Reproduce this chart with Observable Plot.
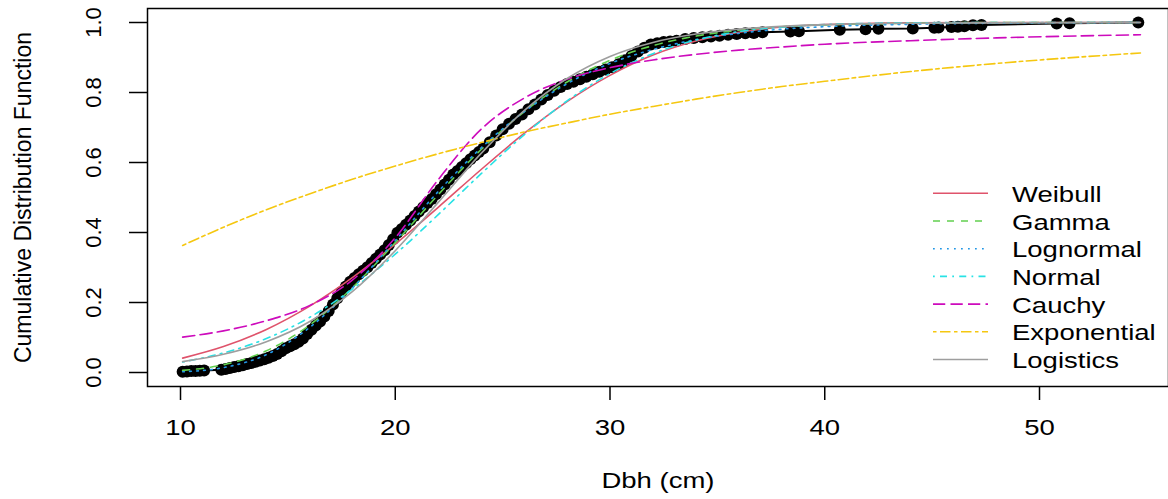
<!DOCTYPE html>
<html><head><meta charset="utf-8">
<script src="https://cdn.jsdelivr.net/npm/d3@7"></script>
<script src="https://cdn.jsdelivr.net/npm/@observablehq/plot@0.6"></script>
<style>
html,body{margin:0;padding:0;background:#fff;}
#chart svg{display:block;}
</style></head><body><div id="chart"></div>
<script>
// Empirical CDF of Dbh (cm)
const ecdfDbh = [10.1,10.3,10.5,10.7,10.9,11.1,11.9,12.1,12.3,12.5,12.7,12.9,13.1,13.3,13.5,13.7,13.9,14.1,14.3,14.5,14.7,14.9,15.1,15.3,15.5,15.7,15.9,16.1,16.3,16.5,16.7,16.9,17.1,17.3,17.5,17.7,17.9,18.1,18.3,18.5,18.7,18.9,19.1,19.3,19.5,19.7,19.9,20.1,20.3,20.5,20.7,20.9,21.1,21.3,21.5,21.7,21.9,22.1,22.3,22.5,22.7,22.9,23.1,23.3,23.5,23.7,23.9,24.1,24.4,24.7,25.0,25.3,25.6,25.9,26.2,26.5,26.8,27.1,27.4,27.7,28.0,28.3,28.6,28.9,29.2,29.5,29.8,30.1,30.4,30.7,31.0,31.3,31.6,31.9,32.2,32.5,32.8,33.1,33.5,33.9,34.3,34.7,35.1,35.5,35.9,36.3,36.7,37.1,38.4,38.8,40.7,41.9,42.5,44.1,45.1,45.3,45.9,46.2,46.5,46.9,47.3,50.8,51.4,54.6];
const ecdfProb = [.002,.003,.004,.004,.005,.006,.008,.010,.013,.016,.018,.021,.024,.027,.031,.034,.038,.042,.047,.053,.061,.069,.075,.081,.088,.097,.110,.122,.134,.146,.160,.176,.194,.212,.230,.246,.259,.270,.281,.291,.301,.313,.325,.337,.349,.364,.381,.399,.410,.422,.434,.447,.460,.472,.484,.496,.509,.523,.537,.551,.566,.576,.587,.598,.609,.620,.630,.640,.658,.677,.695,.711,.724,.737,.752,.766,.780,.793,.805,.816,.824,.831,.838,.845,.852,.859,.866,.872,.881,.892,.904,.917,.928,.937,.941,.944,.946,.948,.953,.956,.958,.960,.962,.965,.967,.969,.970,.972,.974,.975,.979,.981,.982,.983,.985,.986,.987,.988,.989,.992,.993,.997,.998,1.0];

// Fitted CDF curves, read at these Dbh values
const fitDbh = [10.1,12,14,16,18,20,22,24,26,28,30,32,34,36,38,40,44,48,54.7];
const weibullCdf     = [0.041,0.074,0.123,0.189,0.271,0.367,0.472,0.580,0.683,0.774,0.849,0.907,0.947,0.972,0.987,0.994,0.999,1.0,1.0];
const gammaCdf       = [0.006,0.022,0.062,0.135,0.242,0.371,0.508,0.637,0.745,0.830,0.892,0.934,0.961,0.978,0.988,0.993,0.998,1.0,1.0];
const lognormalCdf   = [0.002,0.014,0.051,0.128,0.241,0.377,0.517,0.642,0.745,0.825,0.883,0.923,0.951,0.969,0.981,0.988,0.995,0.998,1.0];
const normalCdf      = [0.030,0.056,0.097,0.157,0.238,0.338,0.451,0.568,0.679,0.776,0.854,0.911,0.950,0.974,0.987,0.994,0.999,1.0,1.0];
const cauchyCdf      = [0.101,0.119,0.148,0.191,0.264,0.385,0.551,0.695,0.784,0.838,0.871,0.893,0.909,0.921,0.930,0.938,0.948,0.956,0.965];
const exponentialCdf = [0.363,0.415,0.465,0.510,0.552,0.590,0.625,0.657,0.687,0.713,0.738,0.760,0.781,0.800,0.817,0.832,0.860,0.883,0.913];
const logisticsCdf   = [0.031,0.052,0.088,0.145,0.231,0.348,0.486,0.626,0.748,0.840,0.903,0.943,0.967,0.981,0.989,0.994,0.998,0.999,1.0];

const seriesNames  = ["Weibull","Gamma","Lognormal","Normal","Cauchy","Exponential","Logistics"];
const seriesValues = [weibullCdf,gammaCdf,lognormalCdf,normalCdf,cauchyCdf,exponentialCdf,logisticsCdf];
const seriesColors = ["#DF536B","#61D04F","#2297E6","#28E2E5","#CD0BBC","#F5C710","#9E9E9E"];
const seriesDash   = [null,"7,7","1.75,5.25","1.75,5.25,7,5.25","12.25,5.25","3.5,3.5,10.5,3.5",null];

const xTicks = [10,20,30,40,50];
const yTicks = [0,0.2,0.4,0.6,0.8,1.0];
const xLabel = "Dbh (cm)";
const yLabel = "Cumulative Distribution Function";

const FONT = "'Liberation Sans', Arial, sans-serif";
const FS = 22;

const ecdf = ecdfDbh.map((d,i)=>({dbh:d, p:ecdfProb[i]}));
const fitMarks = seriesNames.map((name,s)=>{
  const rows = fitDbh.map((d,i)=>({dbh:d, p:seriesValues[s][i]}));
  return Plot.line(rows, {x:"dbh", y:"p", stroke:seriesColors[s], strokeWidth:1.6,
    strokeDasharray: seriesDash[s] || undefined, curve:"monotone-x"});
});

const svg = Plot.plot({
  width:1168, height:499,
  marginLeft:147, marginRight:0, marginTop:8, marginBottom:113,
  style:{fontFamily:FONT, background:"#fff", color:"#000", overflow:"visible"},
  x:{domain:[8.463,56.007]},
  y:{domain:[-0.04,1.04]},
  marks:[
    Plot.axisX(xTicks, {tickSize:14, tickPadding:19, fontSize:FS, label:null, strokeWidth:1.5, tickFormat:d=>String(d)}),
    Plot.axisY(yTicks, {tickSize:18, tickPadding:29, tickRotate:-90, fontSize:FS, label:null, strokeWidth:1.5, tickFormat:d=>d.toFixed(1)}),
    Plot.text([yLabel], {frameAnchor:"left", dx:-124, rotate:-90, textAnchor:"middle", fontSize:23, text:d=>d}),
    Plot.text([xLabel], {frameAnchor:"bottom", dy:101, fontSize:FS, text:d=>d}),
    Plot.line(ecdf, {x:"dbh", y:"p", stroke:"black", strokeWidth:2}),
    Plot.dot(ecdf, {x:"dbh", y:"p", r:6, fill:"black", stroke:"none"}),
    ...fitMarks,
    Plot.frame({stroke:"black", strokeWidth:1.5})
  ]
});

document.getElementById("chart").append(svg);

// legend (no box)
const lg = d3.select(svg).append("g").attr("font-family",FONT).attr("font-size",FS).attr("text-anchor","start");
seriesNames.forEach((name,i)=>{
  const y = 193.3 + i*27.7;
  const ln = lg.append("line").attr("x1",933).attr("x2",988).attr("y1",y).attr("y2",y)
    .attr("stroke",seriesColors[i]).attr("stroke-width",1.6);
  if (seriesDash[i]) ln.attr("stroke-dasharray",seriesDash[i]);
  lg.append("text").attr("x",1012).attr("y",y+8.5).attr("fill","#000").attr("text-anchor","start").text(name);
});

// horizontal stretch of non-rotated text (reference rendering is wider than tall)
const STRETCH = 1.25;
svg.querySelectorAll("text").forEach(t=>{
  const tr = (t.getAttribute("transform")||"") + ((t.parentNode && t.parentNode.getAttribute && t.parentNode.getAttribute("transform"))||"");
  if (tr.includes("rotate")) return;
  const L = t.getComputedTextLength();
  if (L>0){ t.setAttribute("textLength", L*STRETCH); t.setAttribute("lengthAdjust","spacingAndGlyphs"); }
});
</script></body></html>
